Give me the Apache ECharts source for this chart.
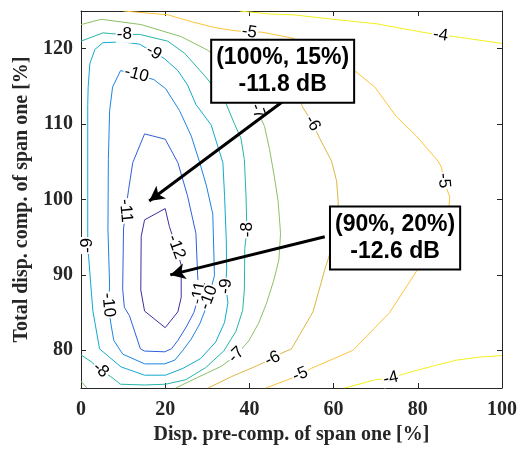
<!DOCTYPE html>
<html>
<head>
<meta charset="utf-8">
<script src="https://cdn.jsdelivr.net/npm/echarts@6/dist/echarts.min.js"></script>
<style>
  html, body { margin: 0; padding: 0; background: #fff; }
  #main { width: 521px; height: 450px; }
</style>
</head>
<body>
<div id="main"></div>
<script>
// tick values
const xTicks = [0, 20, 40, 60, 80, 100];
const yTicks = [80, 90, 100, 110, 120];

// contour levels (dB)
const levels = [-12, -11, -10, -9, -8, -7, -6, -5, -4];

// contour lines, [pre-comp %, total comp %]
const c12 = [[20.0,98.8],[15.1,97.3],[14.3,95.1],[14.2,88.0],[15.1,85.2],[20.0,83.0],[23.0,85.1],[23.8,87.0],[23.8,91.3],[22.6,93.7],[21.0,96.4]];
const c11 = [[10.6,98.5],[11.3,101.3],[12.3,104.9],[15.1,108.7],[20.0,108.0],[23.0,104.9],[25.3,100.5],[27.3,95.5],[27.7,90.0],[28.0,87.6],[27.4,86.1],[26.8,85.0],[25.0,83.1],[23.0,81.3],[21.5,80.2],[19.9,79.8],[15.1,79.9],[14.1,80.2],[11.5,84.6],[10.3,85.7],[9.9,88.1],[10.1,96.1]];
const c10 = [[6.5,86.0],[6.8,88.5],[6.4,96.1],[6.5,105.3],[6.8,111.8],[7.5,114.9],[9.4,117.1],[13.2,116.6],[17.3,115.9],[20.1,114.7],[23.4,111.8],[26.2,108.4],[28.2,104.9],[29.8,101.8],[31.3,98.1],[31.7,89.9],[30.3,87.0],[29.4,85.2],[28.2,83.5],[26.2,81.5],[24.2,80.0],[22.3,78.7],[19.9,78.2],[15.1,78.2],[9.9,79.5],[7.8,81.3],[7.1,83.5]];
const c9 = [[1.6,112.6],[1.7,114.9],[2.1,118.0],[3.3,119.9],[5.2,120.8],[10.0,120.9],[13.9,120.6],[17.3,119.5],[19.8,118.7],[23.0,117.1],[25.3,115.2],[27.3,112.6],[30.9,109.9],[33.7,104.9],[34.1,100.5],[34.5,94.8],[34.6,90.9],[34.4,88.5],[34.9,86.3],[34.1,83.7],[32.0,81.1],[28.4,78.9],[24.2,77.6],[20.1,76.7],[15.1,76.7],[9.5,77.8],[4.4,80.2],[2.8,85.3],[2.2,89.6],[1.6,93.9],[1.6,102.3]];
const c8 = [[0,121.0],[5.2,122.1],[7.1,122.0],[10.3,121.9],[13.9,121.9],[20.6,121.0],[24.6,119.4],[29.4,116.4],[34.1,113.2],[36.4,110.1],[38.0,108.1],[38.8,105.3],[39.2,100.5],[39.4,96.0],[38.9,93.5],[38.8,88.0],[38.4,85.3],[36.8,82.5],[33.9,79.9],[29.6,77.7],[24.9,76.1],[20.1,75.5],[15.1,75.4],[9.4,75.5],[7.1,76.5],[4.7,77.4],[2.4,78.5],[0,79.4]];
const c7 = [[0,123.2],[4.8,123.9],[14.3,123.2],[23.8,121.6],[30.1,119.8],[35.8,117.1],[40.1,114.2],[42.0,111.7],[43.6,109.7],[44.8,106.6],[45.9,103.1],[46.8,99.9],[47.4,95.5],[47.0,92.0],[45.8,89.3],[44.1,86.3],[42.2,83.6],[39.8,81.2],[36.9,79.4],[33.4,77.9],[27.7,76.4],[22.5,75]];
const c7b = [[0,75.9],[1.4,75]];
const c6 = [[48.4,120.4],[53.1,115.8],[52.4,112.5],[55.0,110.1],[56.7,108.1],[59.5,105.1],[60.7,102.5],[61.1,99.7],[61.0,96.1],[59.1,92.8],[57.9,90.7],[55.1,85.1],[50.0,80.2],[47.2,79.5],[45.5,78.9],[42.0,78.0],[35.7,76.5],[30.2,75]];
const c5 = [[10.1,125],[20.6,124.5],[26.1,123.6],[31.8,122.8],[36.3,122.4],[40.0,122.2],[42.9,122.2],[50.3,121.4],[57.9,119.0],[65.4,116.9],[69.8,114.9],[74.9,111.0],[79.7,108.4],[84.8,105.1],[85.6,104.3],[86.2,102.5],[87.6,100.3],[87.3,98.5],[84.0,94.2],[79.7,90.5],[73.3,85.0],[64.6,80.0],[54.7,77.6],[52.1,76.8],[49.6,76.2],[43.9,75]];
const c4a = [[37.7,125],[44.8,124.6],[50.4,124.5],[59.9,123.9],[70.2,123.3],[82.0,122.1],[85.4,121.8],[88.8,121.6],[100,120.7]];
const c4b = [[62.6,75],[70.0,76.1],[73.6,76.3],[76.9,76.9],[83.5,77.9],[89.2,78.7],[94.7,79.1],[100,79.3]];

// inline labels [level, x, y]
const labelSpots = [
  [-12,22.6,93.7],[-11,10.6,98.5],[-11,28.0,87.6],[-10,13.2,116.6],[-10,30.3,87.0],[-10,6.5,86.0],
  [-9,17.3,119.5],[-9,34.4,88.5],[-9,1.6,93.9],[-8,10.3,121.9],[-8,39.4,96.0],[-8,4.7,77.4],
  [-7,42.0,111.7],[-7,36.9,79.4],[-6,55.0,110.1],[-6,45.5,78.9],
  [-5,40.0,122.2],[-5,86.2,102.5],[-5,52.1,76.8],[-4,85.4,121.8],[-4,73.6,76.3]
];
const labelAngles = [-70,-85,80,-15,70,-85,-30,85,90,0,90,-40,-70,45,-60,25,-8,-85,22,-8,13];

// annotated points
const notes = [
  { text: '(100%, 15%)\n-11.8 dB', box: [47.9, 117.0], from: [47.7, 112.9], to: [16.2, 99.8] },
  { text: '(90%, 20%)\n-12.6 dB', box: [74.6, 94.9], from: [57.9, 95.05], to: [21.2, 90.0] }
];

const colors = {
  '-12': '#402f9e', '-11': '#2d5fdc', '-10': '#1c84e0', '-9': '#12a9cf', '-8': '#26b6a6',
  '-7': '#8cc068', '-6': '#dcb645', '-5': '#fcc43a', '-4': '#f2ef1e'
};

const contours = [
  { level: -12, pts: c12, closed: true },
  { level: -11, pts: c11, closed: true },
  { level: -10, pts: c10, closed: true },
  { level: -9, pts: c9, closed: true },
  { level: -8, pts: c8 },
  { level: -7, pts: c7 },
  { level: -7, pts: c7b },
  { level: -6, pts: c6 },
  { level: -5, pts: c5 },
  { level: -4, pts: c4a },
  { level: -4, pts: c4b }
];

const axisColor = '#262626';
const serif = { fontFamily: 'Liberation Serif', fontWeight: 'bold', fontSize: 20, color: axisColor };

function makeX(pos, labels) {
  return {
    type: 'value', min: 0, max: 100, position: pos,
    axisLine: { show: true, onZero: false, lineStyle: { color: axisColor, width: 1 } },
    axisTick: { show: true, inside: true, length: 5, customValues: xTicks, lineStyle: { color: axisColor } },
    axisLabel: Object.assign({ show: labels, customValues: xTicks, margin: 12 }, serif),
    splitLine: { show: false }
  };
}
function makeY(pos, labels) {
  return {
    type: 'value', min: 75, max: 125, position: pos,
    axisLine: { show: true, onZero: false, lineStyle: { color: axisColor, width: 1 } },
    axisTick: { show: true, inside: true, length: 5, customValues: yTicks, lineStyle: { color: axisColor } },
    axisLabel: Object.assign({ show: labels, customValues: yTicks, margin: 8 }, serif),
    splitLine: { show: false }
  };
}

let xMain = makeX('bottom', true);
xMain.name = 'Disp. pre-comp. of span one [%]';
xMain.nameLocation = 'middle';
xMain.nameGap = 37;
xMain.nameTextStyle = serif;
let yMain = makeY('left', true);
yMain.name = 'Total disp. comp. of span one [%]';
yMain.nameLocation = 'middle';
yMain.nameGap = 45;
yMain.nameTextStyle = serif;

let series = contours.map(function (c) {
  let pts = c.closed ? c.pts.concat([c.pts[0]]) : c.pts;
  return {
    type: 'line', data: pts, symbol: 'none', smooth: false, z: 2,
    lineStyle: { color: colors[String(c.level)], width: 1 },
    emphasis: { disabled: true }
  };
});

series.push({
  type: 'scatter', z: 3, symbolSize: 1, itemStyle: { color: 'rgba(0,0,0,0)', opacity: 1 },
  data: labelSpots.map(function (s, i) {
    return { name: String(s[0]), value: [s[1], s[2]], label: { rotate: labelAngles[i] } };
  }),
  label: {
    show: true, position: 'inside', formatter: '{b}',
    fontFamily: 'Liberation Sans', fontSize: 17, color: '#000', opacity: 1,
    textBorderWidth: 0, textShadowBlur: 0,
    backgroundColor: '#fff', padding: [0, 1]
  },
  emphasis: { disabled: true }
});

series.push({
  type: 'scatter', z: 4, data: [],
  markLine: {
    silent: true, animation: false,
    symbol: ['none', 'arrow'], symbolSize: [12, 15],
    lineStyle: { color: '#000', width: 3, type: 'solid', opacity: 1 },
    label: { show: false },
    data: notes.map(function (n) { return [{ coord: n.from }, { coord: n.to }]; })
  }
});

series.push({
  type: 'scatter', z: 5, symbolSize: 1, itemStyle: { color: 'rgba(0,0,0,0)', opacity: 1 },
  data: notes.map(function (n) { return { name: n.text, value: n.box }; }),
  label: {
    show: true, position: 'inside', formatter: '{b}',
    fontFamily: 'Liberation Sans', fontWeight: 'bold', fontSize: 23, lineHeight: 27,
    color: '#000', opacity: 1, textBorderWidth: 0, textShadowBlur: 0,
    backgroundColor: '#fff', borderColor: '#000', borderWidth: 2,
    padding: [4, 4, 3, 4], align: 'center'
  },
  emphasis: { disabled: true }
});

let chart = echarts.init(document.getElementById('main'));
chart.setOption({
  animation: false,
  backgroundColor: '#fff',
  grid: { left: 81, right: 19, top: 11, bottom: 59 },
  xAxis: [xMain, makeX('top', false)],
  yAxis: [yMain, makeY('right', false)],
  series: series
});
</script>
</body>
</html>
